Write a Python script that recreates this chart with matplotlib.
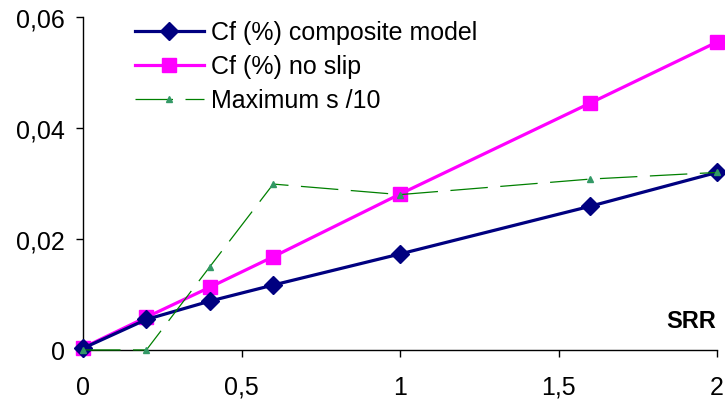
import matplotlib
matplotlib.use("Agg")
import matplotlib.pyplot as plt
from matplotlib.ticker import FuncFormatter

plt.rcParams['font.family'] = ['Liberation Sans', 'DejaVu Sans']

# data
srr = [0, 0.2, 0.4, 0.6, 1.0, 1.6, 2.0]
cf_composite = [0.0003, 0.0055, 0.0088, 0.0117, 0.0173, 0.0259, 0.0320]
cf_noslip = [0.0004, 0.0059, 0.0113, 0.0168, 0.0281, 0.0445, 0.0555]
max_s10 = [0.0, 0.0, 0.0150, 0.0299, 0.0280, 0.0308, 0.0320]

x_ticks = [0, 0.5, 1, 1.5, 2]
y_ticks = [0, 0.02, 0.04, 0.06]

fig = plt.figure(figsize=(7.25, 4.02), dpi=100)
ax = fig.add_axes([0.1145, 0.127, 0.8745, 0.828])

ax.plot(srr, cf_composite, color='#000080', lw=2.3, marker='D', ms=9,
        label='Cf (%) composite model', zorder=3)
ax.plot(srr, cf_noslip, color='#FF00FF', lw=2.3, marker='s', ms=10.5,
        label='Cf (%) no slip', zorder=2)
ax.plot(srr, max_s10, color='#008000', lw=0.9, dashes=(30, 10), marker='^',
        ms=5, mfc='#339966', mec='#339966', label='Maximum s /10', zorder=4)

ax.set_xlim(0, 2)
ax.set_ylim(0, 0.06)
ax.set_xticks(x_ticks)
ax.set_yticks(y_ticks)

comma = FuncFormatter(lambda v, p: ('%g' % v).replace('.', ','))
ax.xaxis.set_major_formatter(comma)
ax.yaxis.set_major_formatter(comma)

for side in ['top', 'right']:
    ax.spines[side].set_visible(False)
for side in ['left', 'bottom']:
    ax.spines[side].set_linewidth(1.0)
ax.tick_params(direction='out', length=5, width=1, labelsize=18)
ax.tick_params(axis='x', pad=13)
ax.tick_params(axis='y', pad=8)
ax.margins(0)
for ln in ax.lines:
    ln.set_clip_on(False)

ax.text(0.998, 0.054, 'SRR', transform=ax.transAxes, ha='right', va='bottom',
        fontsize=17, fontweight='bold')

ax.legend(loc='upper left', bbox_to_anchor=(0.066, 1.02), frameon=False,
          fontsize=18, handlelength=2.75, handletextpad=0.28, labelspacing=0.4,
          borderaxespad=0)

fig.savefig('out.png', dpi=100)
